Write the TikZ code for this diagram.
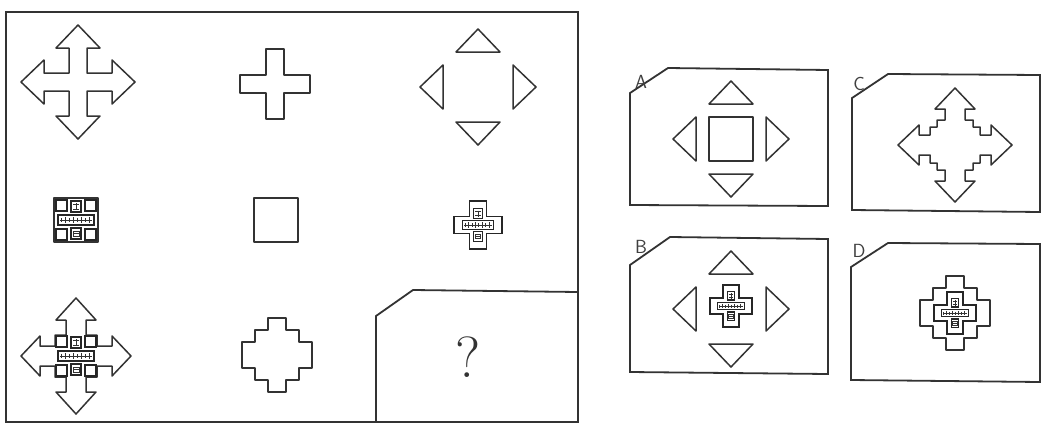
\documentclass[tikz,border=0pt]{standalone}
\tikzset{
  shp/.style={draw=black!80, line width=1.5pt, line join=round},
  frm/.style={draw=black!80, line width=1.8pt, line join=miter},
  inr/.style={draw=black!85, line width=1.1pt},
  scr/.style={draw=black!80, line width=0.8pt},
  lbl/.style={font=\sffamily\fontsize{19}{19}\selectfont, text=black!75, inner sep=0pt},
  qm/.style={font=\fontsize{58}{58}\selectfont, text=black!80, inner sep=0pt},
}
% four-way arrow: center, tip T, head base B, head half-width H, shaft half-width S
\newcommand{\FourArrow}[5]{%
\draw[shp,shift={#1}] (0,-#2)--(#4,-#3)--(#5,-#3)--(#5,-#5)--(#3,-#5)--(#3,-#4)--(#2,0)--(#3,#4)--(#3,#5)--(#5,#5)--(#5,#3)--(#4,#3)--(0,#2)--(-#4,#3)--(-#5,#3)--(-#5,#5)--(-#3,#5)--(-#3,#4)--(-#2,0)--(-#3,-#4)--(-#3,-#5)--(-#5,-#5)--(-#5,-#3)--(-#4,-#3)--cycle;}
% four triangles
\newcommand{\FourTri}[1]{%
\draw[shp,shift={#1}] (0,-58)--(22,-35)--(-22,-35)--cycle (0,58)--(22,35)--(-22,35)--cycle (-58,0)--(-35,22)--(-35,-22)--cycle (58,0)--(35,22)--(35,-22)--cycle;}
% plus outline: center, extent, half-width, style
\newcommand{\PlusShape}[4]{%
\draw[#4,shift={#1}] (-#3,-#2)--(#3,-#2)--(#3,-#3)--(#2,-#3)--(#2,#3)--(#3,#3)--(#3,#2)--(-#3,#2)--(-#3,#3)--(-#2,#3)--(-#2,-#3)--(-#3,-#3)--cycle;}
% stepped cross
\newcommand{\StepCross}[1]{%
\draw[shp,shift={#1}] (-9,-37)--(9,-37)--(9,-25)--(22,-25)--(22,-13)--(35,-13)--(35,13)--(22,13)--(22,25)--(9,25)--(9,37)--(-9,37)--(-9,25)--(-22,25)--(-22,13)--(-35,13)--(-35,-13)--(-22,-13)--(-22,-25)--(-9,-25)--cycle;}
% stepped four-way arrow
\newcommand{\StepArrow}[1]{%
\draw[shp,shift={#1}] (0,-57)--(20,-36)--(10,-36)--(10,-25)--(18,-25)--(18,-18)--(25,-18)--(25,-10)--(36,-10)--(36,-20)--(57,0)--(36,20)--(36,10)--(25,10)--(25,18)--(18,18)--(18,25)--(10,25)--(10,36)--(20,36)--(0,57)--(-20,36)--(-10,36)--(-10,25)--(-18,25)--(-18,18)--(-25,18)--(-25,10)--(-36,10)--(-36,20)--(-57,0)--(-36,-20)--(-36,-10)--(-25,-10)--(-25,-18)--(-18,-18)--(-18,-25)--(-10,-25)--(-10,-36)--(-20,-36)--cycle;}
% arrow merged with square
\newcommand{\ArrowSq}[1]{%
\draw[shp,shift={#1}] (0,-58)--(20,-36)--(10,-36)--(10,-21)--(21,-21)--(21,-10)--(36,-10)--(36,-20)--(55,0)--(36,20)--(36,10)--(21,10)--(21,21)--(10,21)--(10,36)--(20,36)--(0,58)--(-20,36)--(-10,36)--(-10,21)--(-21,21)--(-21,10)--(-36,10)--(-36,20)--(-55,0)--(-36,-20)--(-36,-10)--(-21,-10)--(-21,-21)--(-10,-21)--(-10,-36)--(-20,-36)--cycle;}
% small corner squares
\newcommand{\CornerSq}[1]{%
\draw[inr,shift={#1}] (-20,-20) rectangle (-9,-9) (9,-20) rectangle (20,-9) (-20,9) rectangle (-9,20) (9,9) rectangle (20,20);}
% pattern core: center, scale
\newcommand{\PatCore}[2]{%
\begin{scope}[shift={#1},scale=#2]
\draw[inr] (-5,-19) rectangle (5,-8) (-18,-5) rectangle (18,5) (-5,8) rectangle (5,19);
\draw[scr] (-3,-16)--(3,-16) (-3,-11)--(3,-11) (0,-17)--(0,-10)
  (-15,-2)--(-15,2) (-11,-3)--(-11,3) (-7,-2)--(-7,2) (-3,-3)--(-3,3) (1,-2)--(1,2) (5,-3)--(5,3) (9,-2)--(9,2) (13,-3)--(13,3)
  (-16,0)--(16,0) (-3,11) rectangle (3,16) (-3,13.5)--(3,13.5);
\end{scope}}
\begin{document}
\begin{tikzpicture}[x=1pt,y=-1pt]
\useasboundingbox[fill=white] (0,0) rectangle (1044,426);
% main frame
\draw[frm] (6,12) rectangle (578,422);
% question box
\draw[frm] (376,422)--(376,316)--(413,290)--(578,292);
\node[qm] (q) at (468,357) {?};
% row 1
\FourArrow{(78,82)}{57}{34}{22}{9}
\PlusShape{(275,84)}{35}{9}{shp}
\FourTri{(478,87)}
% row 2
\draw[shp] (54,198) rectangle (98,242);
\CornerSq{(76,220)}
\PatCore{(76,220)}{1}
\draw[shp] (254,198) rectangle (298,242);
\PlusShape{(478,225)}{24}{8.5}{inr}
\PatCore{(478,225)}{0.85}
% row 3
\ArrowSq{(76,356)}
\CornerSq{(76,356)}
\PatCore{(76,356)}{1}
\StepCross{(277,355)}
% answer boxes
\draw[frm] (630,93)--(668,68)--(828,70)--(828,206)--(630,205)--cycle;
\node[lbl] (la) at (641,82) {A};
\FourTri{(731,139)}
\draw[shp] (709,117) rectangle (753,161);
\draw[frm] (852,98)--(888,74)--(1040,75)--(1040,212)--(852,210)--cycle;
\node[lbl] (lc) at (859,84) {C};
\StepArrow{(955,145)}
\draw[frm] (630,265)--(670,237)--(828,239)--(828,374)--(630,372)--cycle;
\node[lbl] (lb) at (641,247) {B};
\FourTri{(731,309)}
\PlusShape{(731,306)}{21}{8}{inr}
\PatCore{(731,306)}{0.75}
\draw[frm] (851,267)--(888,243)--(1040,244)--(1040,382)--(851,380)--cycle;
\node[lbl] (ld) at (859,251) {D};
\StepCross{(955,313)}
\PlusShape{(955,313)}{21}{8}{inr}
\PatCore{(955,313)}{0.75}
\end{tikzpicture}
\end{document}
